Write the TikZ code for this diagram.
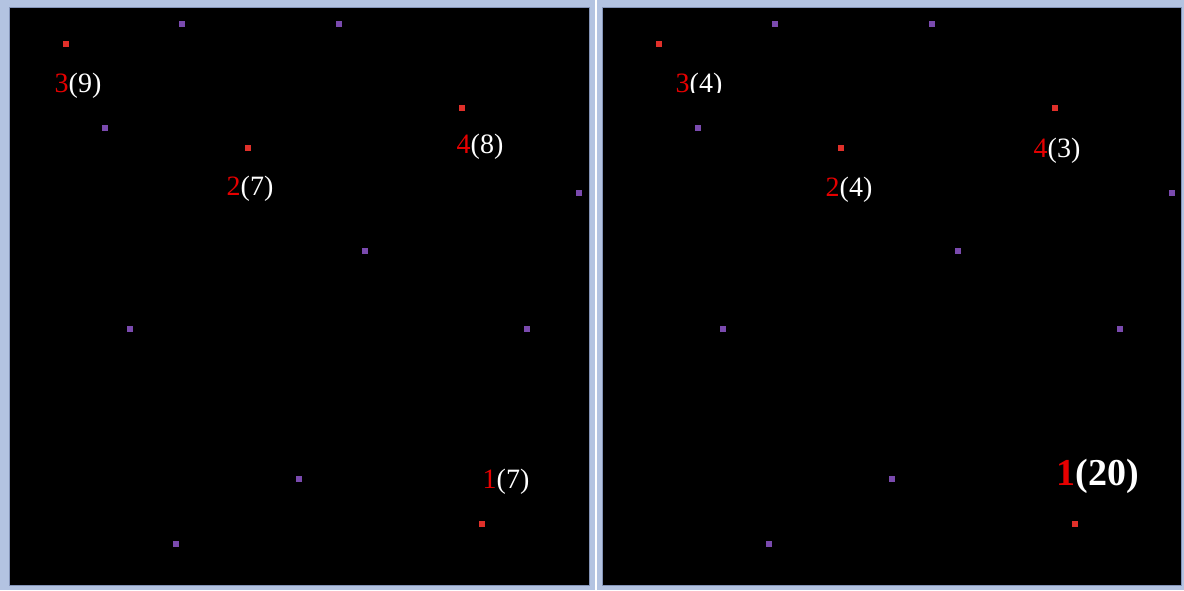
\documentclass[tikz,border=0pt]{standalone}
\usepackage{fontspec}
\setmainfont{Liberation Serif}
\definecolor{framebg}{HTML}{B3C3E1}
\definecolor{frameline}{HTML}{8494B8}
\definecolor{ptred}{HTML}{E0302A}
\definecolor{ptpurple}{HTML}{7A4AAE}
\definecolor{txtred}{HTML}{E60000}
\begin{document}
\begin{tikzpicture}[x=1pt,y=-1pt,
  redpt/.style={fill=ptred,draw=none,minimum size=6pt,inner sep=0pt,rectangle},
  purplept/.style={fill=ptpurple,draw=none,minimum size=6pt,inner sep=0pt,rectangle},
  lbl/.style={text=white,anchor=base,inner sep=0pt,font=\fontsize{28}{30}\selectfont},
  biglbl/.style={text=white,anchor=base,inner sep=0pt,font=\fontsize{38}{40}\selectfont\bfseries},
  panel/.style={fill=black,draw=frameline,line width=1pt}]
\useasboundingbox (0,0) rectangle (1184,590);
\fill[framebg] (0,0) rectangle (1184,590);
\fill[white] (595,0) rectangle (597,590);
\draw[panel] (9.5,7.5) rectangle (589.5,585.5);
\draw[panel] (602.5,7.5) rectangle (1181.5,585.5);
% left panel
\node[redpt] (l3) at (66,44) {};
\node[redpt] (l2) at (248,148) {};
\node[redpt] (l4) at (462,108) {};
\node[redpt] (l1) at (482,524) {};
\node[purplept] (lp1) at (182,24) {};
\node[purplept] (lp2) at (339,24) {};
\node[purplept] (lp3) at (105,128) {};
\node[purplept] (lp4) at (579,193) {};
\node[purplept] (lp5) at (365,251) {};
\node[purplept] (lp6) at (130,329) {};
\node[purplept] (lp7) at (527,329) {};
\node[purplept] (lp8) at (299,479) {};
\node[purplept] (lp9) at (176,544) {};
\node[lbl] (tl3) at (78,92) {\textcolor{txtred}{3}(9)};
\node[lbl] (tl2) at (250,195) {\textcolor{txtred}{2}(7)};
\node[lbl] (tl4) at (480,153) {\textcolor{txtred}{4}(8)};
\node[lbl] (tl1) at (506,488) {\textcolor{txtred}{1}(7)};
% right panel
\node[redpt] (r3) at (659,44) {};
\node[redpt] (r2) at (841,148) {};
\node[redpt] (r4) at (1055,108) {};
\node[redpt] (r1) at (1075,524) {};
\node[purplept] (rp1) at (775,24) {};
\node[purplept] (rp2) at (932,24) {};
\node[purplept] (rp3) at (698,128) {};
\node[purplept] (rp4) at (1172,193) {};
\node[purplept] (rp5) at (958,251) {};
\node[purplept] (rp6) at (723,329) {};
\node[purplept] (rp7) at (1120,329) {};
\node[purplept] (rp8) at (892,479) {};
\node[purplept] (rp9) at (769,544) {};
\begin{scope}
\clip (603,8) rectangle (1181,92);
\node[lbl] (tr3) at (699,92) {\textcolor{txtred}{3}(4)};
\end{scope}
\node[lbl] (tr2) at (849,196) {\textcolor{txtred}{2}(4)};
\node[lbl] (tr4) at (1057,157) {\textcolor{txtred}{4}(3)};
\node[biglbl] (tr1) at (1098,485) {\textcolor{txtred}{1}(20)};
\end{tikzpicture}
\end{document}
